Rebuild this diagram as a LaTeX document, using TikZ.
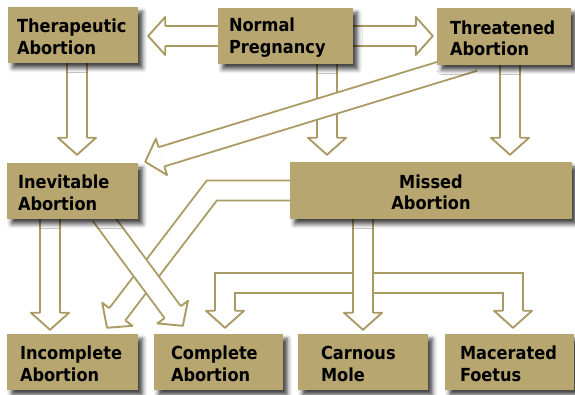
\documentclass[tikz,border=0pt]{standalone}
\usepackage{fontspec}
\newfontfamily\boxfamily{DejaVu Sans Condensed Bold}
\usepackage{tikz}
\usetikzlibrary{calc, backgrounds, shadows.blur}
\definecolor{boxc}{RGB}{183,166,112}
\definecolor{arrowc}{RGB}{170,154,100}
\hyphenpenalty=10000
\tikzset{
  %% Tan box with soft shadow
  box/.style={
    rectangle, fill=boxc, inner ysep=0pt, inner xsep=#1,
    minimum height=56pt, align=left, text height=17pt,
    font=\boxfamily\fontsize{18}{21.5}\selectfont,
    blur shadow={shadow xshift=4.5pt, shadow yshift=-5pt,
                 shadow blur radius=4.5pt, shadow opacity=75}
  },
  box/.default=9pt,
  %% Hollow arrow: shaft
  shaft/.style={draw=arrowc, line width=1.9pt, double=white,
                double distance=18.1pt, line join=miter},
  %% Hollow arrow: head
  head/.style={
    draw=arrowc, fill=white, line width=1.9pt, line join=round,
    to path={
      ($(\tikztotarget)!17pt!(\tikztostart)$) coordinate (hb)
      ($(hb)!10pt!90:(\tikztotarget)$) -- ($(hb)!19pt!90:(\tikztotarget)$)
      -- (\tikztotarget) -- ($(hb)!19pt!-90:(\tikztotarget)$)
      -- ($(hb)!10pt!-90:(\tikztotarget)$)
    }
  },
}

\begin{document}
\begin{tikzpicture}[x=1pt, y=1pt]
  \useasboundingbox (0,0) rectangle (575,395);

  %% Boxes
  \node[box, text width=112pt] (ther) at (73,360) {Therapeutic\\Abortion};
  \node[box=11pt, text width=113pt] (norm) at (285.5,359) {Normal\\Pregnancy};
  \node[box=13pt, text width=108pt, minimum height=57pt] (threat) at (504,358.5)
       {Threatened\\Abortion};
  \node[box=11pt, text width=109pt] (inev) at (72.5,204) {Inevitable\\Abortion};
  \node[box, text width=264pt, align=center, minimum height=57pt] (missed)
       at (431,204.5) {Missed\\Abortion};
  \node[box=13pt, text width=105pt] (incomp) at (72.5,33) {Incomplete\\Abortion};
  \node[box=17pt, text width=95pt] (comp) at (218.5,33) {Complete\\Abortion};
  \node[box=23pt, text width=84pt] (carn) at (363,33) {Carnous\\Mole};
  \node[box=15pt, text width=99pt] (mac) at (509.5,33) {Macerated\\Foetus};

  %% Arrow ends
  \coordinate (s1) at ($(norm.west)+(4,0)$);
  \coordinate (t1) at ($(ther.east |- norm.west)+(10,0)$);
  \coordinate (s2) at ($(norm.east)+(-4,0)$);
  \coordinate (t2) at ($(threat.west |- norm.east)+(-4,0)$);
  \coordinate (s3) at ($(ther.south)+(4,4)$);
  \coordinate (t3) at ($(ther.south |- inev.north)+(4,8)$);
  \coordinate (s4) at ($(norm.south)+(41.5,4)$);
  \coordinate (t4) at ($(norm.south |- missed.north)+(41.5,7)$);
  \coordinate (s5) at ($(threat.south)+(6,4)$);
  \coordinate (t5) at ($(threat.south |- missed.north)+(6,7)$);
  \coordinate (s6) at ($(threat.south)+(-30,4)$);
  \coordinate (t6) at ($(inev.north east)+(7,1)$);
  \coordinate (s7) at ($(inev.south)+(-22.5,4)$);
  \coordinate (t7) at ($(inev.south |- incomp.north)+(-22.5,4)$);
  \coordinate (s8) at ($(inev.south)+(28.5,4)$);
  \coordinate (t8) at ($(comp.north west)+(29,8)$);
  \coordinate (s9) at ($(missed.west)+(4,0)$);
  \coordinate (c9) at ($(missed.west)+(-78,0)$);
  \coordinate (t9) at ($(incomp.north)+(34.5,6)$);
  \coordinate (s10) at ($(carn.north |- missed.south)+(0,4)$);
  \coordinate (t10) at ($(carn.north)+(0,4)$);
  \coordinate (tl) at ($(comp.north)+(6.5,6)$);
  \coordinate (tr) at ($(mac.north)+(3.5,6)$);
  \coordinate (cl) at ($(tl)+(0,44.5)$);
  \coordinate (cr) at (tr |- cl);

  %% Hollow arrows behind the boxes
  \begin{scope}[on background layer]
    \foreach \n in {1,2,3,5,7,4,6} {
      \draw[shaft] (s\n) -- ($(t\n)!17pt!(s\n)$);
      \draw[head] (s\n) to (t\n);
    }
    % missed -> incomplete, bent
    \draw[shaft] (s9) -- (c9) -- ($(t9)!17pt!(c9)$);
    \draw[head] (c9) to (t9);
    \draw[shaft] (s8) -- ($(t8)!17pt!(s8)$);
    \draw[head] (s8) to (t8);
    % missed -> complete / macerated
    \draw[shaft] ($(tl)!17pt!(cl)$) -- (cl) -- (cr) -- ($(tr)!17pt!(cr)$);
    \draw[head] (cl) to (tl);
    \draw[head] (cr) to (tr);
    \draw[shaft] (s10) -- ($(t10)!17pt!(s10)$);
    \draw[head] (s10) to (t10);
  \end{scope}

\end{tikzpicture}
\end{document}
